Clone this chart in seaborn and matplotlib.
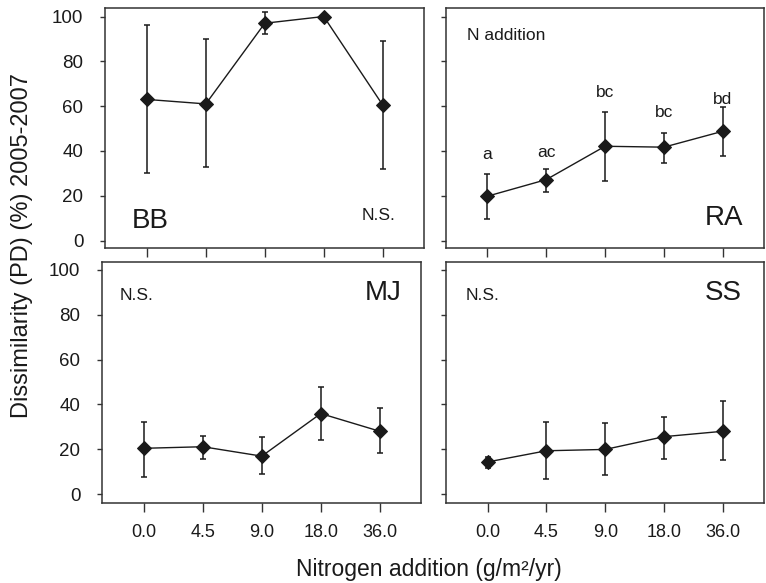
import matplotlib
matplotlib.use('Agg')
import matplotlib.pyplot as plt
import seaborn as sns

# nitrogen levels on the x axis (categorical positions)
n_levels = ['0.0', '4.5', '9.0', '18.0', '36.0']

# mean dissimilarity and error-bar ends for each site
bb_mean = [63, 61, 97, 100, 60.5]
bb_lo = [30, 33, 92, 100, 32]
bb_hi = [96, 90, 102, 100, 89]

ra_mean = [19.8, 27.2, 42.1, 41.7, 48.8]
ra_lo = [9.7, 21.7, 26.6, 34.7, 37.9]
ra_hi = [29.9, 32.1, 57.3, 48.1, 59.7]
ra_letters = ['a', 'ac', 'bc', 'bc', 'bd']
ra_letter_pad = [8.5, 7.3, 8.7, 8.9, 3.3]

mj_mean = [20.4, 21.1, 16.9, 35.9, 28.0]
mj_lo = [7.6, 15.7, 8.8, 24.3, 18.1]
mj_hi = [32.2, 26.1, 25.5, 47.6, 38.3]

ss_mean = [14.3, 19.3, 19.9, 25.6, 28.0]
ss_lo = [11.4, 6.5, 8.4, 15.8, 15.1]
ss_hi = [16.6, 32.2, 31.6, 34.5, 41.5]

sns.set_style('ticks')
plt.rcParams['font.family'] = ['Liberation Sans', 'DejaVu Sans']
ink = '#1a1a1a'

fig = plt.figure(figsize=(7.66, 5.83), dpi=100)
W, H = 766, 583


def make_ax(left, top, right, bottom):
    return fig.add_axes([left / W, 1 - bottom / H, (right - left) / W, (bottom - top) / H])


ax_bb = make_ax(105, 8, 424, 248)
ax_ra = make_ax(445.5, 8, 764, 248)
ax_mj = make_ax(102, 262, 421, 503)
ax_ss = make_ax(445.7, 262, 764.3, 503)

panels = [
    (ax_bb, bb_mean, bb_lo, bb_hi, 'BB'),
    (ax_ra, ra_mean, ra_lo, ra_hi, 'RA'),
    (ax_mj, mj_mean, mj_lo, mj_hi, 'MJ'),
    (ax_ss, ss_mean, ss_lo, ss_hi, 'SS'),
]

x = list(range(len(n_levels)))

for ax, mean, lo, hi, site in panels:
    yerr = [[m - l for m, l in zip(mean, lo)], [h - m for m, h in zip(mean, hi)]]
    ax.errorbar(x, mean, yerr=yerr, fmt='none', ecolor=ink, elinewidth=1.1,
                capsize=2.5, capthick=1.1, zorder=2)
    sns.lineplot(x=x, y=mean, ax=ax, color=ink, lw=1, marker='D', markersize=7.2,
                 markeredgecolor=ink, markerfacecolor=ink, zorder=3)
    ax.set_xlim(-0.71, 4.70)
    ax.set_xticks(x)
    ax.set_xticklabels(n_levels)
    ax.set_yticks([0, 20, 40, 60, 80, 100])
    for sp in ax.spines.values():
        sp.set_visible(True)
        sp.set_color('#333333')
        sp.set_linewidth(1.1)
    ax.tick_params(axis='x', direction='out', length=6.5, width=1, pad=8.5,
                   labelsize=13, colors='#333333', labelcolor=ink)
    ax.tick_params(axis='y', direction='out', length=3.5, width=1, pad=12,
                   labelsize=13.5, colors='#333333', labelcolor=ink)

ax_bb.set_ylim(-3.3, 103.8)
ax_ra.set_ylim(-3.3, 103.8)
ax_mj.set_ylim(-4, 103.5)
ax_ss.set_ylim(-4, 103.5)

ax_bb.tick_params(axis='x', labelbottom=False)
ax_ra.tick_params(axis='x', labelbottom=False)
ax_ra.tick_params(axis='y', labelleft=False)
ax_ss.tick_params(axis='y', labelleft=False)

# site codes and significance notes
big = 20
small = 12.5
ax_bb.text(0.085, 0.082, 'BB', transform=ax_bb.transAxes, fontsize=big, color=ink)
ax_bb.text(0.91, 0.115, 'N.S.', transform=ax_bb.transAxes, fontsize=small, ha='right', color=ink)
ax_ra.text(0.936, 0.096, 'RA', transform=ax_ra.transAxes, fontsize=big, ha='right', color=ink)
ax_ra.text(0.068, 0.867, 'N addition', transform=ax_ra.transAxes, fontsize=small, color=ink)
ax_mj.text(0.94, 0.842, 'MJ', transform=ax_mj.transAxes, fontsize=big, ha='right', color=ink)
ax_mj.text(0.056, 0.842, 'N.S.', transform=ax_mj.transAxes, fontsize=small, color=ink)
ax_ss.text(0.929, 0.842, 'SS', transform=ax_ss.transAxes, fontsize=big, ha='right', color=ink)
ax_ss.text(0.061, 0.842, 'N.S.', transform=ax_ss.transAxes, fontsize=small, color=ink)

# group letters above RA error bars
for xi, hi, pad, lab in zip(x, ra_hi, ra_letter_pad, ra_letters):
    ax_ra.text(xi, hi + pad, lab, ha='center', va='center', fontsize=small, color=ink)

fig.text(429 / W, 1 - 576 / H, 'Nitrogen addition (g/m²/yr)', ha='center', va='baseline',
         fontsize=16.5, color=ink)
fig.text(22 / W, 1 - 246 / H, 'Dissimilarity (PD) (%) 2005-2007', rotation=90,
         ha='center', va='center', fontsize=17, color=ink)

fig.savefig('out.png', dpi=100)
